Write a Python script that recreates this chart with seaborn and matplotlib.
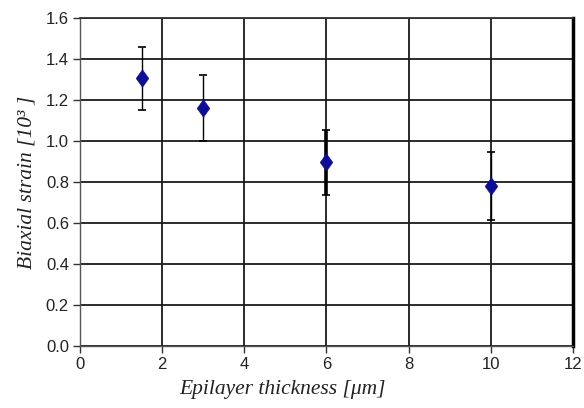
import matplotlib
matplotlib.use("Agg")
import matplotlib.pyplot as plt
import seaborn as sns
import pandas as pd

# Data
thickness = [1.5, 3.0, 6.0, 10.0]
strain = [1.305, 1.16, 0.895, 0.78]
strain_err = [0.155, 0.16, 0.157, 0.165]
x_ticks = [0, 2, 4, 6, 8, 10, 12]
y_ticks = [0.0, 0.2, 0.4, 0.6, 0.8, 1.0, 1.2, 1.4, 1.6]

sns.set_theme(style="white")
plt.rcParams['font.family'] = ['Liberation Sans', 'DejaVu Sans']

df = pd.DataFrame({"thickness": thickness, "strain": strain, "err": strain_err})

fig = plt.figure(figsize=(5.84, 4.08), dpi=100)
ax = fig.add_axes([0.137, 0.152, 0.844, 0.804])

bar_widths = [1.0, 1.0, 2.6, 1.0]
for (xv, yv, ev), lw in zip(zip(thickness, strain, strain_err), bar_widths):
    ax.errorbar([xv], [yv], yerr=[ev], fmt='none', ecolor='black',
                elinewidth=lw, capsize=3.2, capthick=1.2, zorder=3)

diamond = [(0, 1), (0.72, 0), (0, -1), (-0.72, 0), (0, 1)]
sns.scatterplot(data=df, x="thickness", y="strain", marker=diamond, s=160,
                color='#0d0d99', edgecolor='#0d0d99', linewidth=0.4, ax=ax, zorder=4)

ax.set_xlim(0, 12)
ax.set_ylim(0, 1.6)
ax.set_xticks(x_ticks)
ax.set_yticks(y_ticks)
ax.set_xticklabels([str(v) for v in x_ticks])
ax.set_yticklabels([f"{v:.1f}" for v in y_ticks])
ax.tick_params(axis='both', direction='out', length=5, width=1, color='#333333',
               labelsize=12, labelcolor='#222222', pad=3, bottom=True, left=True)

ax.grid(True, color='#1a1a1a', linewidth=1.3)
ax.set_axisbelow(True)

for side in ['left', 'bottom']:
    ax.spines[side].set_color('#555555')
    ax.spines[side].set_linewidth(1.0)
ax.spines['top'].set_color('#333333')
ax.spines['top'].set_linewidth(1.3)
ax.spines['right'].set_color('black')
ax.spines['right'].set_linewidth(2.5)

label_font = dict(family=['Liberation Serif', 'DejaVu Serif'], style='italic', size=15.5, color='#222222')
ax.set_xlabel("Epilayer thickness [μm]", fontdict=label_font, labelpad=6)
ax.xaxis.set_label_coords(0.41, -0.105)
ax.set_ylabel("Biaxial strain [10³ ]", fontdict=label_font, labelpad=7)

fig.savefig("out.png", dpi=100, facecolor='white')
